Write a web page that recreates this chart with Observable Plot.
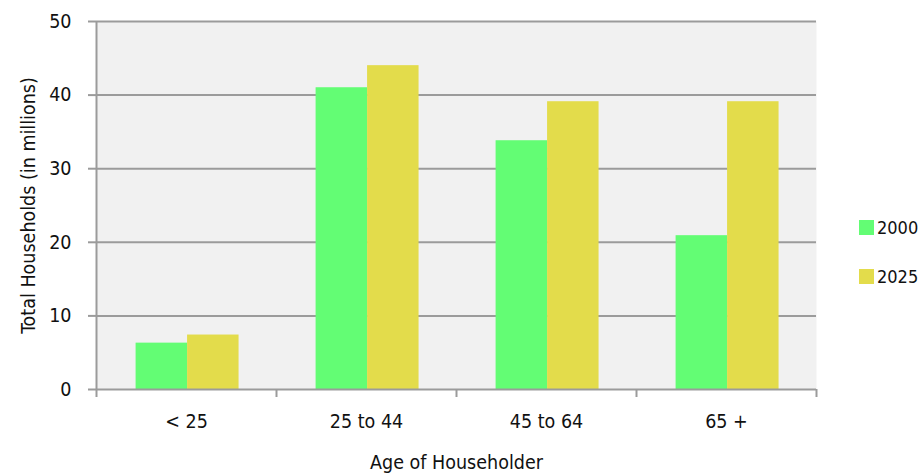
<!DOCTYPE html>
<html>
<head>
<meta charset="utf-8">
<script src="https://cdn.jsdelivr.net/npm/d3@7"></script>
<script src="https://cdn.jsdelivr.net/npm/@observablehq/plot@0.6"></script>
<style>
  body { margin: 0; background: #fff; }
  #wrap { position: relative; width: 921px; height: 474px; font-family: "Liberation Sans Narrow", "DejaVu Sans Condensed", sans-serif; }
  .leg { position: absolute; left: 859px; display: flex; align-items: center; font-size: 18px; line-height: 21px; color: #111; }
  .leg span.sw { width: 15px; height: 15px; display: inline-block; margin-right: 3px; }
</style>
</head>
<body>
<div id="wrap"></div>
<script>
const categories = ["< 25", "25 to 44", "45 to 64", "65 +"];
const years = ["2000", "2025"];
const values2000 = [6.3, 41, 33.8, 20.9];
const values2025 = [7.4, 44, 39.1, 39.1];
const colors = ["#63fd74", "#e3dc4b"];
const yTicks = [0, 10, 20, 30, 40, 50];

const series = [values2000, values2025];
const rows = [];
categories.forEach((c, i) => {
  years.forEach((yr, j) => {
    rows.push({i, j, category: c, year: yr, value: series[j][i]});
  });
});

const barW = 0.286; // fraction of a category band
const grid = "#9b9b9b";
const fs = 19.5;

const chart = Plot.plot({
  width: 921,
  height: 474,
  marginLeft: 96,
  marginRight: 105,
  marginTop: 21,
  marginBottom: 85,
  style: {fontFamily: '"Liberation Sans Narrow", "DejaVu Sans Condensed", sans-serif', fontSize: fs + "px", color: "#111", background: "transparent"},
  x: {type: "linear", domain: [0, categories.length], axis: null},
  y: {domain: [0, 50], axis: null},
  color: {domain: years, range: colors},
  marks: [
    Plot.frame({fill: "#f1f1f1", stroke: null}),
    Plot.ruleY(yTicks.filter(d => d > 0), {stroke: grid, strokeWidth: 2}),
    Plot.rectY(rows, {
      x1: d => d.i + 0.5 + (d.j - 1) * barW + 0.006,
      x2: d => d.i + 0.5 + d.j * barW + 0.006,
      y: "value",
      fill: "year"
    }),
    Plot.ruleX([0], {stroke: grid, strokeWidth: 2}),
    Plot.ruleY([0], {stroke: grid, strokeWidth: 2}),
    Plot.axisY({ticks: yTicks, tickSize: 8, tickPadding: 17, stroke: grid, strokeWidth: 2, label: null, fill: "#111", fontSize: fs}),
    Plot.axisX({ticks: d3.range(0, categories.length + 1), tickSize: 8, tickFormat: () => "", stroke: grid, strokeWidth: 2, label: null}),
    Plot.axisX({ticks: categories.map((c, i) => i + 0.5), tickSize: 0, tickPadding: 25, tickFormat: (d) => categories[Math.floor(d)], label: null, fill: "#111", fontSize: fs}),
    Plot.text(["Age of Householder"], {frameAnchor: "bottom", dy: 73, lineAnchor: "middle", textAnchor: "middle", fill: "#111", fontSize: fs}),
    Plot.text(["Total Households (in millions)"], {frameAnchor: "left", dx: -68, rotate: -90, lineAnchor: "middle", textAnchor: "middle", fill: "#111", fontSize: fs})
  ]
});

const wrap = document.getElementById("wrap");
wrap.appendChild(chart);
const legTops = [220, 269];
years.forEach((yr, j) => {
  const el = document.createElement("div");
  el.className = "leg";
  el.style.top = (legTops[j] - 3) + "px";
  el.innerHTML = `<span class="sw" style="background:${colors[j]}"></span><span>${yr}</span>`;
  wrap.appendChild(el);
});
</script>
</body>
</html>
